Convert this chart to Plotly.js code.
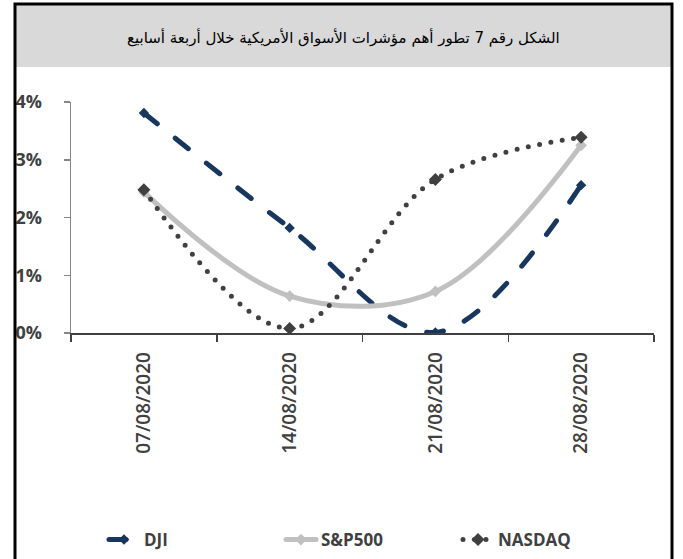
<!DOCTYPE html>
<html>
<head>
<meta charset="utf-8">
<script src="https://cdn.plot.ly/plotly-3.0.1.min.js"></script>
<style>
html,body{margin:0;padding:0;background:#fff;}
#chart{width:683px;height:559px;}
.js-line{stroke-linecap:round !important;}
</style>
</head>
<body>
<div id="chart"></div>
<script>
// Data
const categories = ["07/08/2020", "14/08/2020", "21/08/2020", "28/08/2020"];
const dji = [3.81, 1.82, 0.01, 2.56];
const sp500 = [2.44, 0.64, 0.72, 3.25];
const nasdaq = [2.48, 0.08, 2.66, 3.39];
const yTickVals = [0, 1, 2, 3, 4];
const yTickText = ["0%", "1%", "2%", "3%", "4%"];
const seriesNames = ["DJI", "S&P500", "NASDAQ"];
const titleText = "الشكل رقم 7 تطور أهم مؤشرات الأسواق الأمريكية خلال أربعة أسابيع";

// Geometry (pixels)
const W = 683, H = 559;
const L = 71, R = 654, T = 102, B = 333;
const px = x => (x - L) / (R - L);
const py = y => (B - y) / (B - T);

const font = "Open Sans, DejaVu Sans, sans-serif";
const txtColor = "#404040";

const traces = [
  {
    x: categories, y: dji, name: seriesNames[0], type: "scatter", mode: "lines+markers",
    line: {color: "#17375E", width: 5, dash: "17px,23px", shape: "spline", smoothing: 1},
    marker: {symbol: "diamond", size: 8, color: "#17375E"}
  },
  {
    x: categories, y: sp500, name: seriesNames[1], type: "scatter", mode: "lines+markers",
    line: {color: "#C0C0C0", width: 5, shape: "spline", smoothing: 1},
    marker: {symbol: "diamond", size: 9, color: "#C0C0C0"}
  },
  {
    x: categories, y: nasdaq, name: seriesNames[2], type: "scatter", mode: "lines+markers",
    line: {color: "#404040", width: 5, dash: "0px,11.5px", shape: "spline", smoothing: 1},
    marker: {symbol: "diamond", size: 10, color: "#404040"}
  }
];

const layout = {
  width: W, height: H,
  margin: {l: L, r: W - R, t: T, b: H - B, pad: 0, autoexpand: false},
  paper_bgcolor: "#ffffff", plot_bgcolor: "rgba(0,0,0,0)",
  showlegend: true,
  font: {family: font, color: txtColor},
  xaxis: {
    type: "category", range: [-0.5, 3.5], automargin: false,
    showgrid: false, zeroline: false,
    showline: true, linecolor: "#404040", linewidth: 1.5,
    ticks: "outside", tickson: "boundaries", ticklen: 7, tickcolor: "#404040", tickwidth: 1.5,
    tickangle: -90, ticklabelstandoff: 10,
    tickfont: {family: font, size: 19, color: txtColor, weight: 600},
    fixedrange: true
  },
  yaxis: {
    range: [0, 4], automargin: false,
    tickvals: yTickVals, ticktext: yTickText,
    showgrid: false, zeroline: false,
    showline: true, linecolor: "#868686", linewidth: 1.5,
    ticks: "outside", ticklen: 6, tickcolor: "#868686", tickwidth: 1.5,
    ticklabelstandoff: 18,
    tickfont: {family: font, size: 18, color: txtColor, weight: 700},
    fixedrange: true
  },
  legend: {
    orientation: "h", x: px(104), xanchor: "left", y: py(540), yanchor: "middle",
    font: {family: font, size: 17, color: txtColor, weight: 700},
    entrywidth: 132, entrywidthmode: "pixels",
    bgcolor: "rgba(0,0,0,0)", itemsizing: "trace"
  },
  shapes: [
    {type: "rect", xref: "paper", yref: "paper", x0: px(16), x1: px(671), y0: py(5), y1: py(67),
     fillcolor: "#D9D9D9", line: {width: 0}, layer: "below"},
    {type: "rect", xref: "paper", yref: "paper", x0: px(15), x1: px(672), y0: py(4), y1: py(575),
     fillcolor: "rgba(0,0,0,0)", line: {color: "#000000", width: 3}, layer: "above"}
  ],
  annotations: [
    {xref: "paper", yref: "paper", x: px(343), y: py(37), xanchor: "center", yanchor: "middle",
     text: titleText, showarrow: false,
     font: {family: "DejaVu Sans, Noto Sans, sans-serif", size: 15, color: "#000000"}}
  ]
};

Plotly.newPlot("chart", traces, layout, {staticPlot: true, displayModeBar: false});
</script>
</body>
</html>
